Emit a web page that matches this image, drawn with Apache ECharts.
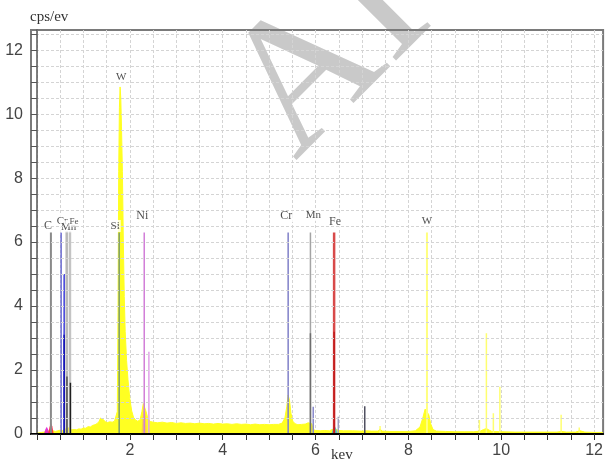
<!DOCTYPE html>
<html>
<head>
<meta charset="utf-8">
<script src="https://cdn.jsdelivr.net/npm/echarts@6/dist/echarts.min.js"></script>
<style>
html,body{margin:0;padding:0;background:#fff;}
#chart{width:606px;height:462px;}
</style>
</head>
<body>
<div id="chart"></div>
<script>
// ---------- DATA ----------
// EDS spectrum (keV, cps/eV)
const spectrumKeV = [0.00,0.05,0.10,0.15,0.20,0.25,0.30,0.35,0.40,0.45,0.50,0.55,0.60,0.65,0.70,0.75,0.80,0.85,0.90,0.95,
  1.00,1.05,1.10,1.15,1.20,1.25,1.30,1.34,1.37,1.40,1.43,1.47,1.52,1.57,1.62,1.67,1.71,1.73,1.745,1.76,1.775,1.79,1.805,1.82,1.84,1.86,1.88,1.90,1.93,1.96,
  2.00,2.04,2.08,2.12,2.17,2.22,2.26,2.29,2.32,2.35,2.39,2.44,2.50,2.6,2.7,2.8,2.9,3.0,3.1,3.2,3.3,3.4,3.5,3.6,3.7,3.8,3.9,4.0,4.1,4.2,4.3,4.4,4.5,4.6,4.7,4.8,4.9,
  5.0,5.1,5.2,5.28,5.34,5.38,5.41,5.44,5.47,5.51,5.56,5.62,5.7,5.78,5.84,5.88,5.92,5.95,6.0,6.1,6.2,6.3,6.36,6.40,6.45,6.5,6.6,6.8,7.0,7.1,7.2,7.35,7.39,7.43,7.6,7.8,
  8.0,8.15,8.25,8.31,8.36,8.40,8.44,8.48,8.53,8.6,8.8,9.0,9.2,9.4,9.55,9.62,9.68,9.74,9.8,10.0,10.3,10.6,10.9,11.2,11.3,11.4,11.6,11.7,11.8,12.0,12.19];
const spectrumCps = [0.02,0.04,0.05,0.06,0.08,0.10,0.12,0.10,0.08,0.10,0.12,0.11,0.14,0.20,0.18,0.13,0.14,0.13,0.16,0.15,
  0.19,0.18,0.23,0.22,0.27,0.29,0.33,0.40,0.50,0.56,0.45,0.38,0.36,0.38,0.37,0.40,0.45,0.70,3.8,8.2,10.2,10.85,10.5,9.6,8.2,6.0,4.3,3.2,2.3,1.7,
  1.1,0.72,0.52,0.44,0.40,0.44,0.70,0.95,0.92,0.70,0.48,0.39,0.37,0.35,0.37,0.34,0.36,0.33,0.35,0.33,0.34,0.32,0.34,0.32,0.33,0.31,0.33,0.31,0.32,0.30,0.32,0.30,0.31,0.29,0.31,0.29,0.30,
  0.29,0.30,0.30,0.34,0.50,0.85,1.22,1.05,0.65,0.40,0.32,0.29,0.30,0.31,0.35,0.40,0.32,0.14,0.11,0.10,0.11,0.10,0.14,0.20,0.14,0.11,0.10,0.10,0.09,0.10,0.09,0.09,0.16,0.09,0.08,0.08,
  0.08,0.10,0.22,0.50,0.78,0.80,0.60,0.32,0.14,0.09,0.08,0.07,0.07,0.07,0.09,0.14,0.17,0.12,0.08,0.07,0.06,0.06,0.06,0.06,0.08,0.06,0.06,0.10,0.06,0.05,0.05];

// deconvolved element peaks (coloured fills)
const peakNames = ['C-a','C-b','Ni','Fe'];
const peakKeV = [[0.15,0.18,0.21,0.24,0.27],[0.24,0.27,0.30,0.33,0.36],[2.25,2.28,2.31,2.34,2.37],[6.34,6.38,6.41,6.44,6.48]];
const peakCps = [[0,0.14,0.23,0.14,0],[0,0.22,0.35,0.24,0],[0,0.6,0.85,0.6,0],[0,0.18,0.26,0.18,0]];

// labelled element marker lines
const markerNames  = ['C','Cr','Mn','Fe','Si','Ni','Cr','Mn','Fe','W'];
const markerEnergy = [0.30,0.52,0.64,0.71,1.77,2.31,5.41,5.89,6.40,8.40];
const markerHeight = [6.3,6.3,6.35,6.35,6.3,6.3,6.3,6.3,6.3,6.3];

// secondary (unlabelled) marker lines
const lineEnergy = [0.585,0.585,0.645,0.72,2.41,5.95,5.89,6.40,6.49,7.06,7.39,9.53,9.68,9.83,9.97,11.29,11.68];
const lineHeight = [5.0,3.1,1.8,1.6,2.57,0.85,3.15,3.2,0.54,0.87,0.25,0.44,3.15,0.65,1.48,0.6,0.2];

// main W peak label
const peakLabelName = 'W';
const peakLabelEnergy = 1.79;
const peakLabelHeight = 10.85;

// axis ticks / labels
const xTickLabels = [2,4,6,8,10,12];
const yTickLabels = [0,2,4,6,8,10,12];
const xTicks = []; for (let i = 0; i <= 24; i++) xTicks.push(i * 0.5);
const yTicks = []; for (let i = 0; i <= 25; i++) yTicks.push(i * 0.5);

// ---------- STYLES ----------
const markerColors = ['#8a8a8a','#6a6ad0','#b8b8b8','#c4c4c4','#7a9a70','#d27ed8','#8080c8','#a4a4a4','#d84a4a','#ffff80'];
const markerWidths = [2,1.5,2.5,2.5,1.5,1.5,1.5,1.5,2.5,2];
const labelOffsets = [[-3,0],[1,-5],[2,2],[4,-4],[-4,0],[-2,-10],[-2,-10],[3,-11],[1,-4],[0,-5]];
const labelSizes = [12,11,11,9,11,12,12,11,12,11];
const lineColors = ['#3a3ad8','#1010b0','#505050','#202020','#e0a0e8','#8888cc','#6e6e6e','#c01818','#a0a0c0','#505060',
  '#ffff70','#ffff70','#ffff70','#ffff70','#ffff70','#ffff70','#ffff70'];
const peakColors = ['#e020d0','#ff2040','#f0b060','#30c8d8'];

const axisFont = "Liberation Sans";
const serif = "Liberation Serif";

const series = [];
series.push({
  type: 'line', xAxisIndex: 0, yAxisIndex: 0, silent: true, symbol: 'none', z: 2,
  data: spectrumKeV.map((k, i) => [k, spectrumCps[i]]),
  lineStyle: {color: '#ffff22', width: 1},
  areaStyle: {color: '#ffff22', opacity: 1}
});
peakKeV.forEach((ks, p) => {
  series.push({
    type: 'line', name: peakNames[p], silent: true, symbol: 'none', z: 3,
    data: ks.map((k, i) => [k, peakCps[p][i]]),
    lineStyle: {width: 0},
    areaStyle: {color: peakColors[p], opacity: p === 2 ? 0.55 : 0.9}
  });
});
markerEnergy.forEach((e, i) => {
  series.push({
    type: 'line', name: markerNames[i], silent: true, symbol: 'none', z: 4,
    data: [[e, 0], [e, markerHeight[i]]],
    lineStyle: {color: markerColors[i], width: markerWidths[i]}
  });
});
lineEnergy.forEach((e, i) => {
  series.push({
    type: 'line', silent: true, symbol: 'none', z: 5,
    data: [[e, 0], [e, lineHeight[i]]],
    lineStyle: {color: lineColors[i], width: 1.5}
  });
});
// labels
series.push({
  type: 'scatter', silent: true, z: 6, symbol: 'circle', symbolSize: 1,
  itemStyle: {color: 'rgba(0,0,0,0)'},
  data: markerEnergy.map((e, i) => ({
    value: [e, markerHeight[i]], name: markerNames[i],
    label: {offset: labelOffsets[i], fontSize: labelSizes[i]}
  })).concat([{value: [peakLabelEnergy, peakLabelHeight], name: peakLabelName, label: {offset: [1, -4], fontSize: 11}}]),
  label: {
    show: true, position: 'top', distance: 0, formatter: p => p.name,
    fontFamily: serif, color: '#222', backgroundColor: '#fff', padding: [1, 1, 0, 1]
  }
});

const chart = echarts.init(document.getElementById('chart'), null, {renderer: 'canvas'});
chart.setOption({
  animation: false,
  backgroundColor: '#fff',
  grid: {left: 31, right: 2, top: 30, bottom: 28, show: true, borderColor: '#7a7a7a', borderWidth: 2, backgroundColor: 'transparent'},
  graphic: [
    {type: 'text', z: -10, x: 300, y: 166, rotation: Math.PI / 4, silent: true,
      style: {text: 'AIC', fontSize: 188, fontFamily: serif, fill: '#c9c9c9', textAlign: 'left', textVerticalAlign: 'middle', y: -56}},
    {type: 'text', x: 30, y: 25, silent: true, z: 20,
      style: {text: 'cps/ev', fontSize: 15, fontFamily: serif, fill: '#333', textVerticalAlign: 'bottom'}},
    {type: 'text', x: 331, y: 448, silent: true, z: 20,
      style: {text: 'kev', fontSize: 15, fontFamily: serif, fill: '#333', textVerticalAlign: 'top'}}
  ],
  xAxis: [
    {type: 'value', min: -0.129, max: 12.194, position: 'bottom', z: 0,
      axisLine: {show: false}, axisTick: {show: false, customValues: xTicks},
      axisLabel: {show: false},
      splitLine: {show: true, lineStyle: {color: '#d4d4d4', type: [3, 2], width: 1}}},
    {type: 'value', min: -0.129, max: 12.194, position: 'bottom', z: 10,
      axisLine: {show: true, onZero: false, lineStyle: {color: '#000', width: 2}},
      axisTick: {show: true, customValues: xTicks, length: 6, lineStyle: {color: '#333', width: 1}},
      axisLabel: {show: true, customValues: xTickLabels, margin: 9, fontSize: 16, color: '#444', fontFamily: axisFont},
      splitLine: {show: false}}
  ],
  yAxis: [
    {type: 'value', min: 0, max: 12.63, z: 10,
      axisLine: {show: true, lineStyle: {color: '#555', width: 1.5}},
      axisTick: {show: true, customValues: yTicks, length: 6, lineStyle: {color: '#555', width: 1}},
      axisLabel: {customValues: yTickLabels, margin: 8, fontSize: 16, color: '#444', fontFamily: axisFont},
      splitLine: {show: true, lineStyle: {color: '#d4d4d4', type: [3, 2], width: 1}}}
  ],
  series: series
});
</script>
</body>
</html>
